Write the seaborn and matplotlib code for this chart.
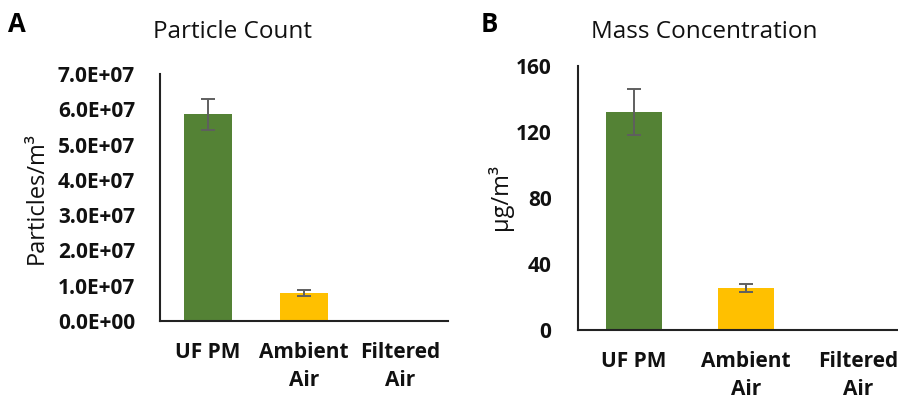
import matplotlib
matplotlib.use("Agg")
import matplotlib.pyplot as plt
import seaborn as sns
from matplotlib.ticker import FuncFormatter, FixedLocator

categories = ["UF PM", "Ambient\nAir", "Filtered\nAir"]
count_means = [5.86e7, 0.80e7, 0.0]
count_errs = [0.44e7, 0.09e7, 0.0]
mass_means = [132.0, 25.5, 0.0]
mass_errs = [14.0, 2.5, 0.0]
count_ticks = [0, 1e7, 2e7, 3e7, 4e7, 5e7, 6e7, 7e7]
mass_ticks = [0, 40, 80, 120, 160]
bar_colors = ["#548235", "#FFC000", "#A5A5A5"]

sns.set_theme(style="white")
plt.rcParams["font.family"] = ["Open Sans", "DejaVu Sans"]

fig = plt.figure(figsize=(8.98, 3.99), dpi=100)
axA = fig.add_axes([160/898, 78/399, 288/898, 247/399])
axB = fig.add_axes([578/898, 69/399, 336/898, 264/399])


def draw(ax, means, errs, ticks, ymax, width, fmt):
    sns.barplot(x=categories, y=means, hue=categories, palette=bar_colors,
                legend=False, width=width, ax=ax, saturation=1,
                edgecolor="none")
    ax.errorbar(x=list(range(len(categories))), y=means, yerr=errs,
                fmt="none", ecolor="#5F5F5F", elinewidth=1.4, capsize=5,
                capthick=1.4)
    ax.set_xlim(-0.5, 2.5)
    ax.set_ylim(0, ymax)
    ax.yaxis.set_major_locator(FixedLocator(ticks))
    ax.yaxis.set_major_formatter(FuncFormatter(fmt))
    for s in ["top", "right"]:
        ax.spines[s].set_visible(False)
    for s in ["left", "bottom"]:
        ax.spines[s].set_color("#222222")
        ax.spines[s].set_linewidth(1.5)
    ax.tick_params(axis="both", length=0, pad=15, labelsize=15)
    for lab in ax.get_xticklabels() + ax.get_yticklabels():
        lab.set_fontweight("bold")
        lab.set_color("#111111")
    for lab in ax.get_xticklabels():
        lab.set_linespacing(1.45)
        lab.set_verticalalignment("top")
    ax.set_xlabel("")
    ax.set_ylabel("")


draw(axA, count_means, count_errs, count_ticks, 7e7, 0.49,
     lambda v, p: f"{v:.1E}")
draw(axB, mass_means, mass_errs, mass_ticks, 160, 0.5,
     lambda v, p: f"{v:.0f}")
axA.tick_params(axis="y", pad=18)
axB.tick_params(axis="y", pad=19)

fig.text(232/898, 1 - 32/399, "Particle Count", ha="center", va="center",
         fontsize=17.5, color="#111111")
fig.text(704/898, 1 - 32/399, "Mass Concentration", ha="center", va="center",
         fontsize=17.5, color="#111111")
fig.text(17/898, 1 - 25/399, "A", ha="center", va="center", fontsize=18.5,
         fontweight="bold", color="#000000")
fig.text(489/898, 1 - 25/399, "B", ha="center", va="center", fontsize=18.5,
         fontweight="bold", color="#000000")
fig.text(37/898, 1 - 198/399, "Particles/m³", ha="center", va="center",
         rotation=90, fontsize=17, color="#111111")
fig.text(500/898, 1 - 197/399, "µg/m³", ha="center", va="center",
         rotation=90, fontsize=17, color="#111111")

fig.savefig("out.png", dpi=100)
